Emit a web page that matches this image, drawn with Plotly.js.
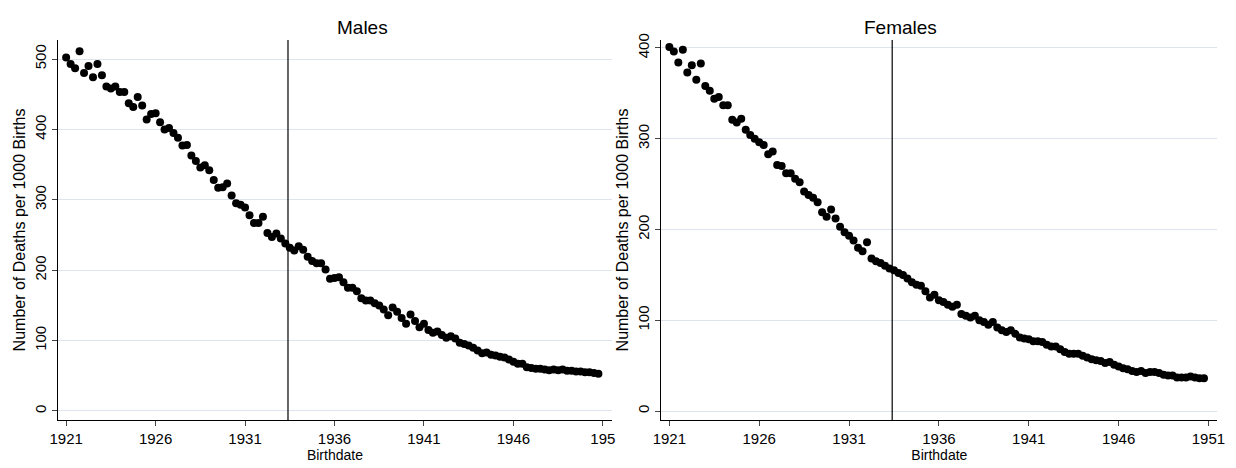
<!DOCTYPE html><html><head><script src="https://cdn.plot.ly/plotly-3.0.1.min.js"></script></head><body style="margin:0"><div id="c" style="width:1236px;height:468px"></div><script>
const years=[];for(let y=1921;y<1951;y++)for(let q=0;q<4;q++)years.push(y+q*0.25);
const males=[502,493,487,511,480,490,474,493,477,461,458,461,453,453,437,432,446,434,414,422,423,410,400,402,395,388,377,378,363,355,346,349,342,328,317,318,323,306,295,293,289,278,267,267,276,253,247,252,245,238,232,228,234,229,219,213,210,210,201,188,189,190,183,175,175,170,160,157,157,153,150,144,136,147,141,132,124,137,128,119,124,115,111,113,108,104,106,103,97,95,93,90,86,82,83,80,79,77,76,73,70,67,67,62,61,60,60,59,58,59,58,59,57,57,56,56,55,55,54,53];
const females=[401,396,384,398,373,381,365,383,358,353,344,346,337,337,321,318,322,310,304,300,296,293,283,286,271,270,262,262,256,252,242,238,235,230,219,214,222,212,203,197,193,188,180,176,186,168,165,163,160,157,155,152,150,146,142,139,138,132,125,128,122,120,117,115,117,107,105,103,105,100,98,95,98,92,89,87,89,85,81,80,79,77,77,76,73,71,71,68,65,63,63,63,61,59,57,56,55,53,54,51,49,47,46,44,43,44,42,43,43,42,40,39,39,37,37,37,38,37,36,36];
const cutoff=1933.4;
const xticks=[1921,1926,1931,1936,1941,1946,1951];
const maleXLabels=["1921","1926","1931","1936","1941","1946","195"];
const femaleXLabels=["1921","1926","1931","1936","1941","1946","1951"];
const mk={color:'black',size:8};
const f={family:'Arial, Liberation Sans',color:'black'};
const xa=(d,lab)=>({domain:d,range:[1920.55,1951.5],tickvals:xticks,ticktext:lab,ticks:'outside',ticklen:5,showline:true,linecolor:'black',showgrid:false,zeroline:false,tickfont:{...f,size:15},title:{text:'Birthdate',font:{...f,size:14},standoff:0}});
const ya=(r,tv)=>({range:r,tickvals:tv,tickangle:-90,ticks:'outside',ticklen:5,showline:true,linecolor:'black',gridcolor:'#dde4ee',zeroline:false,tickfont:{...f,size:15},title:{text:'Number of Deaths per 1000 Births',font:{...f,size:16},standoff:2}});
const L={margin:{l:0,r:0,t:40,b:48},showlegend:false,plot_bgcolor:'white',paper_bgcolor:'white',font:f,
xaxis:xa([0.047,0.495],maleXLabels),yaxis:{...ya([-12.8,527],[0,100,200,300,400,500]),anchor:'x'},
xaxis2:{...xa([0.535,0.985],femaleXLabels),anchor:'y2'},yaxis2:{...ya([-9.9,408.8],[0,100,200,300,400]),anchor:'x2'},
shapes:[{type:'line',xref:'x',yref:'y domain',x0:cutoff,x1:cutoff,y0:0,y1:1,line:{color:'black',width:1.2}},{type:'line',xref:'x2',yref:'y2 domain',x0:cutoff,x1:cutoff,y0:0,y1:1,line:{color:'black',width:1.2}}],
annotations:[{text:'Males',xref:'paper',yref:'paper',x:0.271,y:1,yshift:0,yanchor:'bottom',showarrow:false,font:{...f,size:19}},{text:'Females',xref:'paper',yref:'paper',x:0.76,y:1,yanchor:'bottom',showarrow:false,font:{...f,size:19}}]};
Plotly.newPlot('c',[{x:years,y:males,mode:'markers',marker:mk,xaxis:'x',yaxis:'y'},{x:years,y:females,mode:'markers',marker:mk,xaxis:'x2',yaxis:'y2'}],L,{staticPlot:true});
</script></body></html>
